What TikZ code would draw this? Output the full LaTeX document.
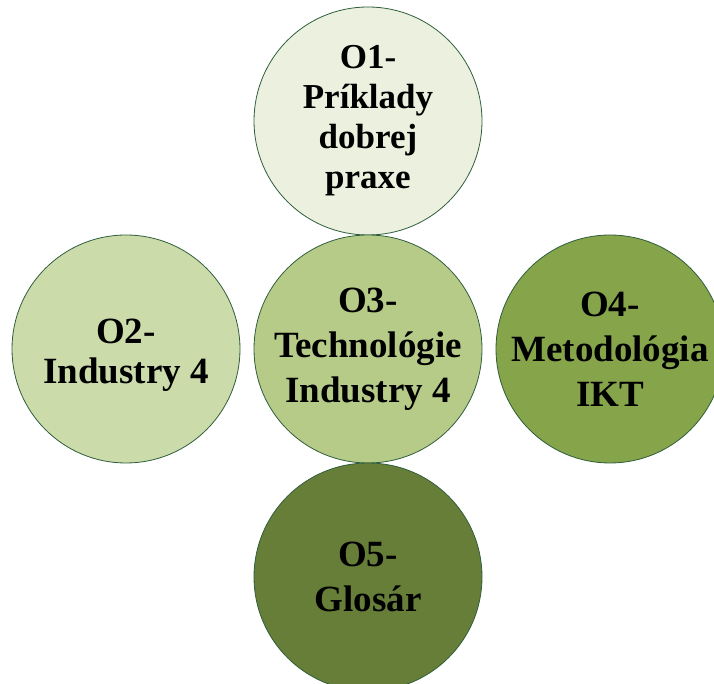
\documentclass[tikz,border=0pt]{standalone}
\usepackage{fontspec}
\setmainfont{Liberation Serif}
\definecolor{cA}{HTML}{EBF1DE}
\definecolor{cB}{HTML}{CCDBAA}
\definecolor{cC}{HTML}{B7CB89}
\definecolor{cD}{HTML}{86A44A}
\definecolor{cE}{HTML}{677E39}
\definecolor{edge}{HTML}{2F5E3C}
\begin{document}
\begin{tikzpicture}[x=1pt,y=1pt,
  bubble/.style={circle, draw=edge, line width=0.8pt, minimum size=228pt, inner sep=0pt, align=center,
    font=\fontsize{37}{45}\selectfont\bfseries, text=black},
  label text/.style={align=center, inner sep=0pt, font=\fontsize{37}{40}\selectfont\bfseries, text=black}]
\useasboundingbox (0,0) rectangle (714,684);
\clip (0,0) rectangle (714,684);
\node[bubble, fill=cA, font=\fontsize{35}{40}\selectfont\bfseries] (o1) at (368,563) {O1-\\Príklady\\dobrej\\praxe};
\node[bubble, fill=cB] (o2) at (126,335) {};
\node[label text] (t2) at (126,329) {O2-\\Industry 4};
\node[bubble, fill=cC] (o3) at (368,335) {O3-\\Technológie\\Industry 4};
\node[bubble, fill=cD] (o4) at (610,335) {O4-\\Metodológia\\IKT};
\node[bubble, fill=cE] (o5) at (368,107) {O5-\\Glosár};
\end{tikzpicture}
\end{document}
